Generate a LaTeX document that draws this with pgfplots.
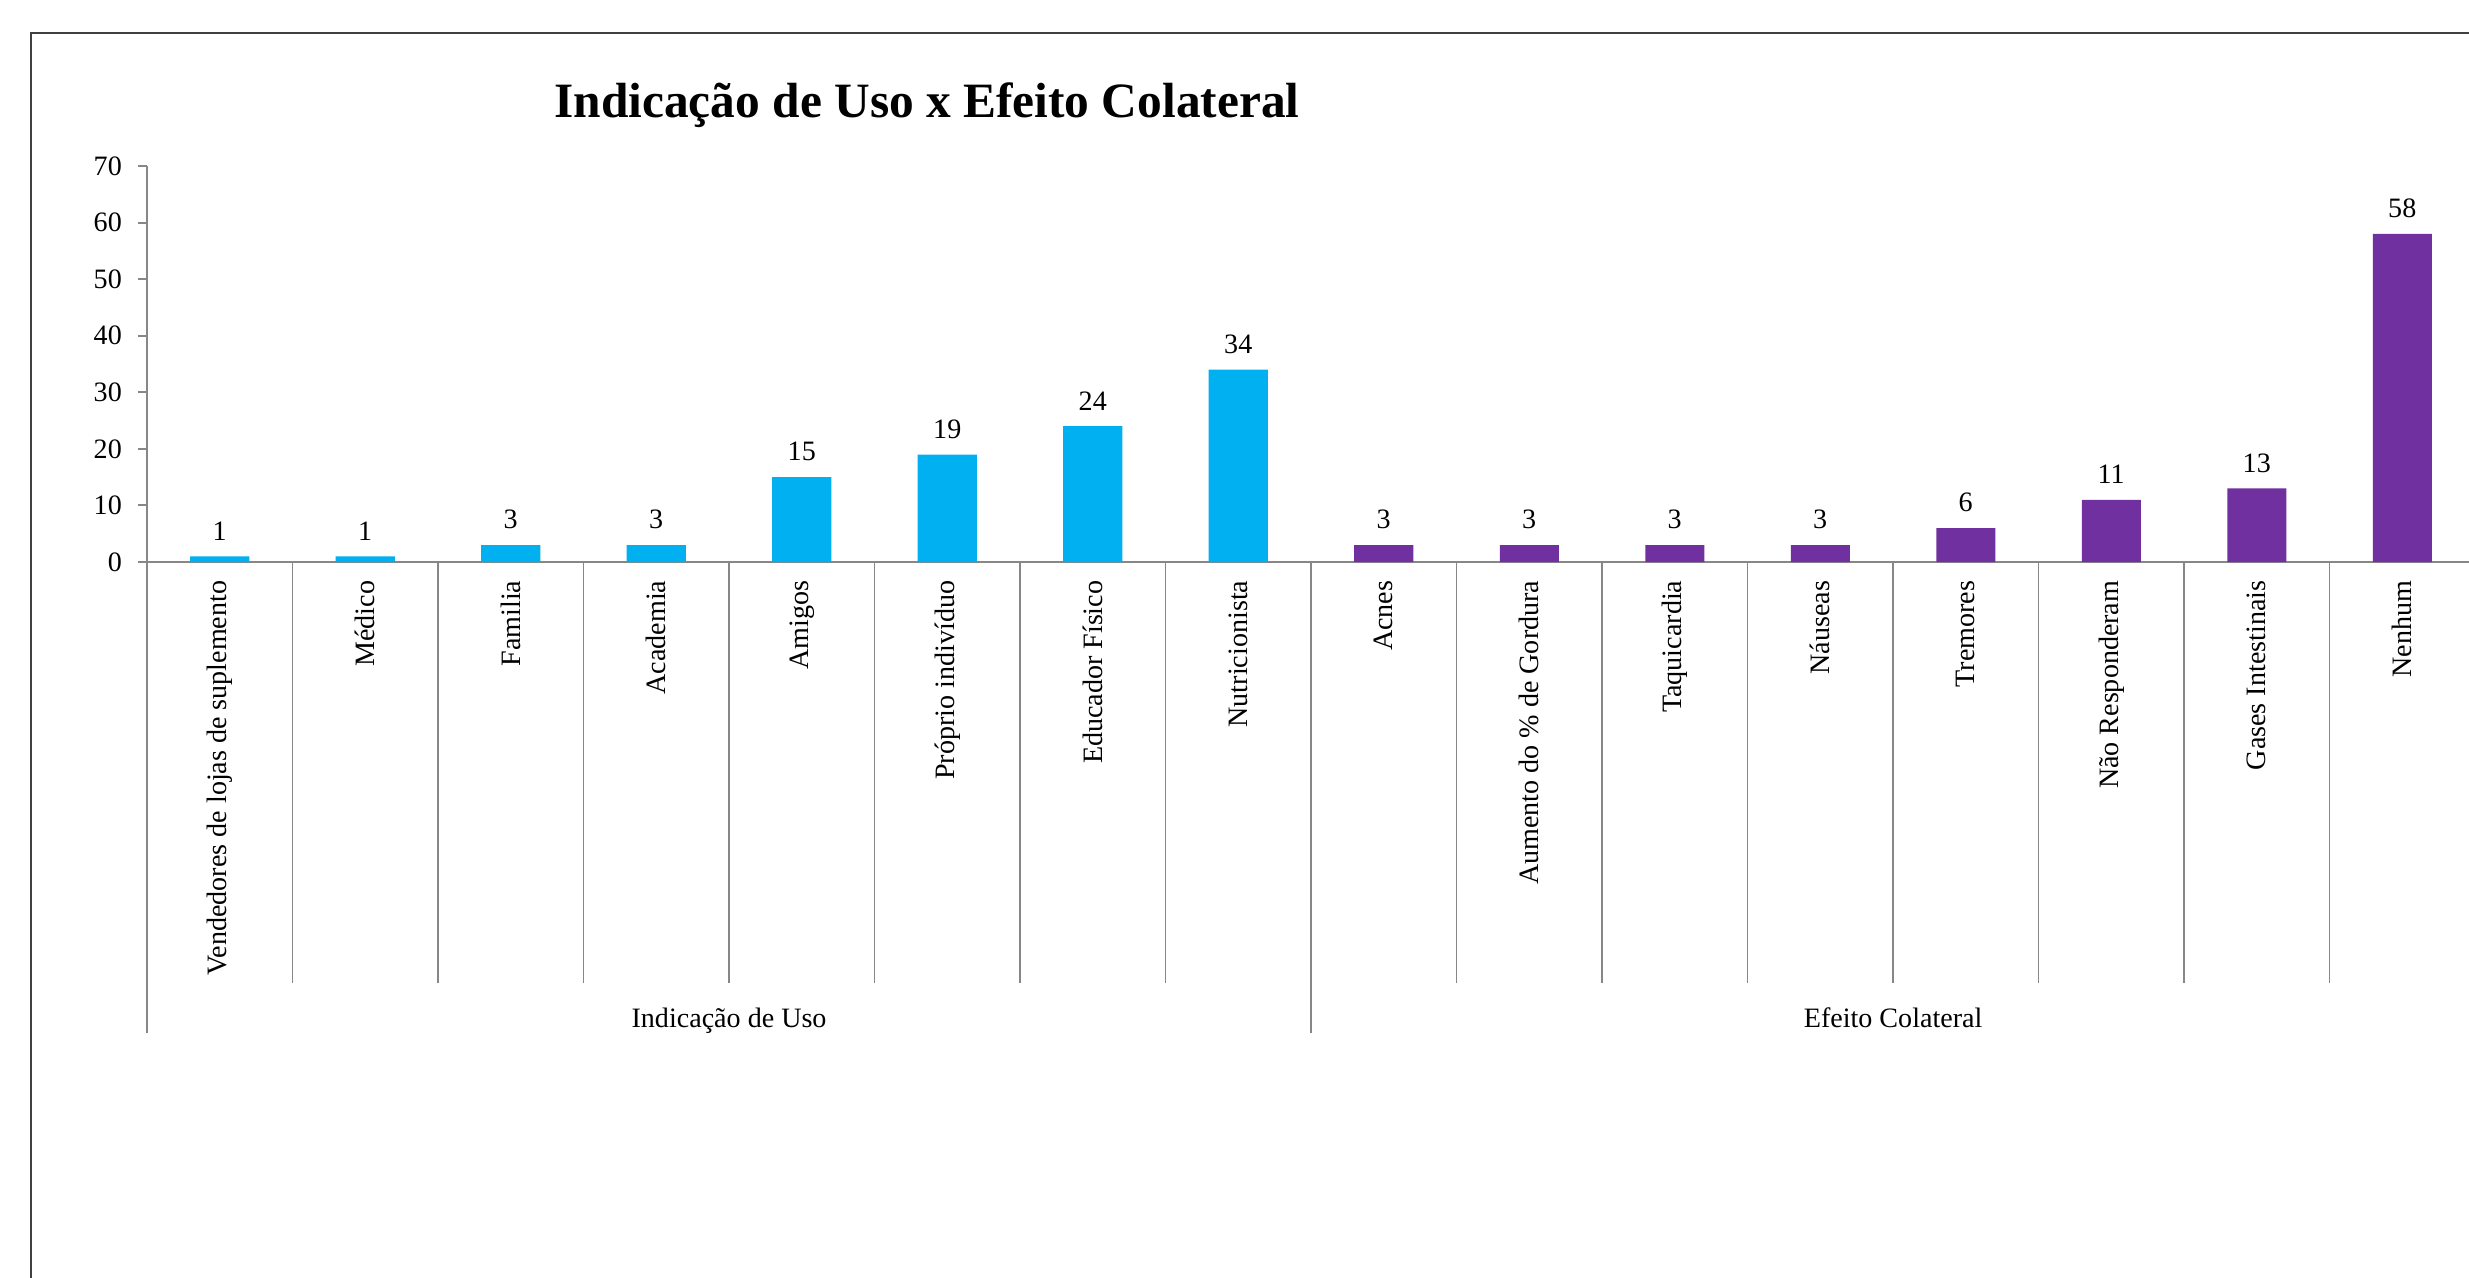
\documentclass[border=0pt]{standalone}
\usepackage{pgfplots}
\pgfplotsset{compat=1.18}
\usepackage{fontspec}
\setmainfont{Liberation Serif}
\definecolor{xlblue}{HTML}{00B0F0}
\definecolor{xlpurple}{HTML}{7030A0}
\definecolor{axgray}{HTML}{878787}
\begin{document}
\begin{tikzpicture}
\useasboundingbox (0,0) rectangle (949.6pt,491.15pt);
\clip (0,0) rectangle (949.6pt,491.15pt);
% outer frame
\draw[black!75, line width=0.9pt] (12pt,-20pt) rectangle (980pt,478.5pt);
% title
\node[anchor=base, font=\fontsize{19}{22}\selectfont\bfseries] at (356.5pt,445.8pt) {Indicação de Uso x Efeito Colateral};
\begin{axis}[
  at={(56.54pt,275pt)}, anchor=south west,
  scale only axis,
  x=55.96pt, y=2.1758pt,
  xmin=-0.5, xmax=15.5, ymin=0, ymax=70,
  clip=false,
  axis lines*=left,
  axis line style={axgray, line width=0.75pt},
  ytick={0,10,...,70},
  xtick={0,...,15},
  xticklabels={Vendedores de lojas de suplemento, Médico, Familia, Academia, Amigos, Próprio indivíduo, Educador Físico, Nutricionista, Acnes, Aumento do \% de Gordura, Taquicardia, Náuseas, Tremores, Não Responderam, Gases Intestinais, Nenhum},
  tick align=outside,
  major tick length=3.5pt,
  ytick style={axgray, line width=0.75pt},
  xtick style={draw=none},
  /pgf/number format/assume math mode=true,
  tick label style={font=\fontsize{10.8}{13}\selectfont},
  yticklabel style={anchor=east, inner sep=0pt, xshift=-6pt},
  xticklabel style={yshift=-3.5pt, rotate=90, anchor=east, inner sep=0pt},
  nodes near coords,
  every node near coord/.append style={font=\fontsize{10.8}{13}\selectfont, anchor=south, inner sep=0pt, yshift=6pt},
]
\addplot[ybar, bar width=22.7pt, fill=xlblue, draw=none] coordinates {(0,1) (1,1) (2,3) (3,3) (4,15) (5,19) (6,24) (7,34)};
\addplot[ybar, bar width=22.7pt, fill=xlpurple, draw=none] coordinates {(8,3) (9,3) (10,3) (11,3) (12,6) (13,11) (14,13) (15,58)};
\end{axis}
% category separators
\foreach \i in {1,...,7,9,10,...,15} \draw[axgray, line width=0.6pt] ({56.54pt+\i*55.96pt},275pt) -- ++(0,-161.9pt);
\foreach \i in {0,8,16} \draw[axgray, line width=0.6pt] ({56.54pt+\i*55.96pt},275pt) -- ++(0,-181.2pt);
% group labels
\node[anchor=base, font=\fontsize{10.8}{13}\selectfont] at (280.4pt,95.8pt) {Indicação de Uso};
\node[anchor=base, font=\fontsize{10.8}{13}\selectfont] at (728.1pt,95.8pt) {Efeito Colateral};
\end{tikzpicture}
\end{document}
